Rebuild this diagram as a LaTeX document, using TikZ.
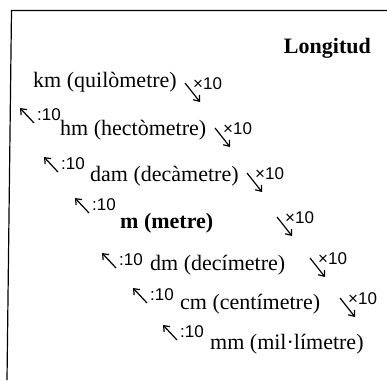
\documentclass[tikz,border=0pt]{standalone}
\usepackage{fontspec}
\setmainfont{Liberation Serif}
\newfontfamily\supfont{Liberation Sans}
\usetikzlibrary{arrows.meta}
\begin{document}
\begin{tikzpicture}[x=1pt,y=-1pt,
  lbl/.style={anchor=base west,inner sep=0pt,font=\fontsize{22}{25}\selectfont},
  boldlbl/.style={anchor=base west,inner sep=0pt,font=\fontsize{22}{25}\selectfont\bfseries},
  supl/.style={anchor=base west,inner sep=0pt,font=\supfont\fontsize{17}{19}\selectfont},
  arr/.style={line width=1.2pt,-{Straight Barb[length=5pt,width=8pt]}},
  frame/.style={line width=1.2pt}]
\useasboundingbox (0,0) rectangle (387,380);
\coordinate (ftr) at (387,10.5);
\coordinate (ftl) at (11.5,10.5);
\coordinate (fbl) at (7,380);
\draw[frame] (ftr) -- (ftl) -- (fbl);
\node[boldlbl, anchor=base east] (title) at (371,53) {Longitud};
% unit labels
\node[lbl] (km) at (33,87) {km (quilòmetre)};
\node[lbl] (hm) at (60,135) {hm (hectòmetre)};
\node[lbl] (dam) at (90,181) {dam (decàmetre)};
\node[boldlbl] (m) at (120,228) {m (metre)};
\node[lbl] (dm) at (150,270) {dm (decímetre)};
\node[lbl] (cm) at (180,309) {cm (centímetre)};
\node[lbl] (mm) at (210,349) {mm (mil·límetre)};
% down arrows x10
\foreach \i/\ax/\ay in {1/185/83, 2/215/128, 3/247/173, 4/277/217, 5/310/258, 6/340/298}{
  \coordinate (ds\i) at (\ax,\ay);
  \coordinate (de\i) at ({\ax+15},{\ay+19});
  \draw[arr] (ds\i) -- (de\i);
  \node[supl] (dl\i) at ({\ax+8},{\ay+6}) {×10};
}
% up arrows :10
\foreach \i/\hx/\hy in {1/20/108, 2/44/157, 3/75/198, 4/102/253, 5/133/288, 6/163/325}{
  \coordinate (uh\i) at (\hx,\hy);
  \coordinate (ut\i) at ({\hx+14},{\hy+15});
  \draw[arr] (ut\i) -- (uh\i);
  \node[supl] (ul\i) at ({\hx+17},{\hy+12}) {:10};
}
\end{tikzpicture}
\end{document}
